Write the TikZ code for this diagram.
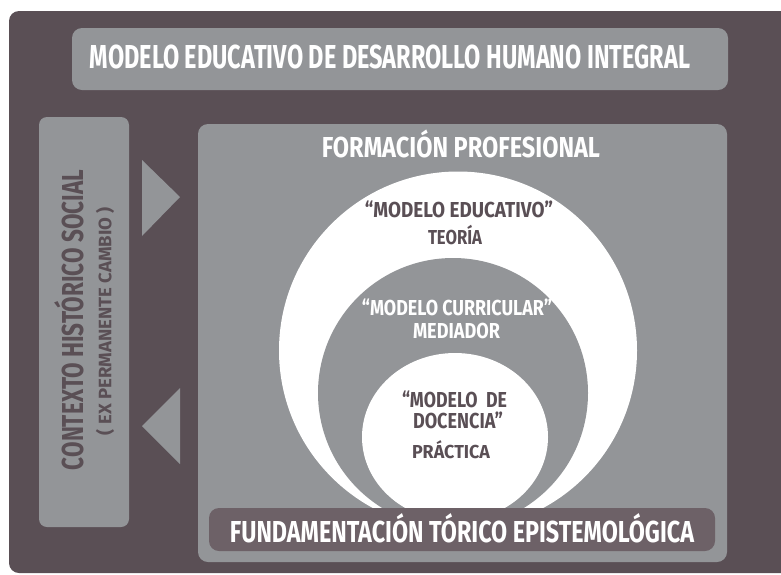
\documentclass[tikz,border=0pt]{standalone}
\usepackage{fontspec}
\setmainfont{Fira Sans}
\usetikzlibrary{shapes.geometric}
\definecolor{bgdark}{RGB}{90,79,85}
\definecolor{midgray}{RGB}{147,149,152}
\definecolor{boxdark}{RGB}{109,97,103}
\newcommand\fittext[3]{\resizebox{#1}{#2}{\bfseries\raisebox{0pt}[\fontcharht\font`H][0pt]{#3}}}
\tikzset{
  panel/.style={rounded corners=10pt, inner sep=0pt, outer sep=0pt},
  label/.style={inner sep=0pt, outer sep=0pt, anchor=center},
  arrowtri/.style={fill=midgray}
}
\begin{document}
\begin{tikzpicture}[x=1pt,y=-1pt]
\useasboundingbox (0,0) rectangle (781,574);
\clip (0,0) rectangle (781,574);
% frame
\node[panel, fill=bgdark, minimum width=791pt, minimum height=562pt] (frame) at (404.5,292) {};
% title
\node[panel, fill=midgray, minimum width=656pt, minimum height=62pt] (titlebox) at (400,59) {};
\node[label, text=white] (title) at (390,56.5) {\fittext{600pt}{23pt}{MODELO EDUCATIVO DE DESARROLLO HUMANO INTEGRAL}};
% left context box
\node[panel, rounded corners=8pt, fill=midgray, minimum width=90pt, minimum height=410pt] (ctxbox) at (84,322) {};
\node[label, text=bgdark, rotate=90] (ctx) at (72.5,320) {\fittext{300pt}{21pt}{CONTEXTO HISTÓRICO SOCIAL}};
\node[label, text=bgdark, rotate=90] (ctxsub) at (105,321) {\fittext{228pt}{12.5pt}{( EX PERMANENTE CAMBIO )}};
% triangles
\fill[arrowtri] (142,160) -- (142,236) -- (180,197) -- cycle;
\fill[arrowtri] (180,388) -- (180,464) -- (142,426) -- cycle;
% main box
\node[panel, fill=midgray, minimum width=529pt, minimum height=438pt] (mainbox) at (462.5,343) {};
\node[label, text=white] (formacion) at (461,147) {\fittext{278pt}{20pt}{FORMACIÓN PROFESIONAL}};
% circles
\node[circle, fill=white, minimum size=358pt, inner sep=0pt] (big) at (458,350.5) {};
\node[circle, fill=midgray, minimum size=270pt, inner sep=0pt] (mid) at (453,393) {};
\node[ellipse, fill=white, minimum width=186pt, minimum height=168pt, inner sep=0pt] (small) at (455,437) {};
% circle texts
\node[label, text=bgdark] (me1) at (459,209.5) {\fittext{188pt}{15pt}{“MODELO EDUCATIVO”}};
\node[label, text=bgdark] (me2) at (455,237) {\fittext{54pt}{14pt}{TEORÍA}};
\node[label, text=white] (mc1) at (457,307.5) {\fittext{190pt}{15pt}{“MODELO CURRICULAR”}};
\node[label, text=white] (mc2) at (456.5,330.5) {\fittext{87pt}{15pt}{MEDIADOR}};
\node[label, text=bgdark] (md1) at (454.5,399.5) {\fittext{105pt}{15pt}{“MODELO\ \ DE}};
\node[label, text=bgdark] (md2) at (458,420.5) {\fittext{90pt}{15pt}{DOCENCIA”}};
\node[label, text=bgdark] (md3) at (451,451.5) {\fittext{78pt}{13pt}{PRÁCTICA}};
% bottom box
\node[panel, fill=boxdark, minimum width=506pt, minimum height=43pt] (fundbox) at (462,529.5) {};
\node[label, text=white] (fund) at (462,532) {\fittext{464pt}{21pt}{FUNDAMENTACIÓN TÓRICO EPISTEMOLÓGICA}};
\end{tikzpicture}
\end{document}
